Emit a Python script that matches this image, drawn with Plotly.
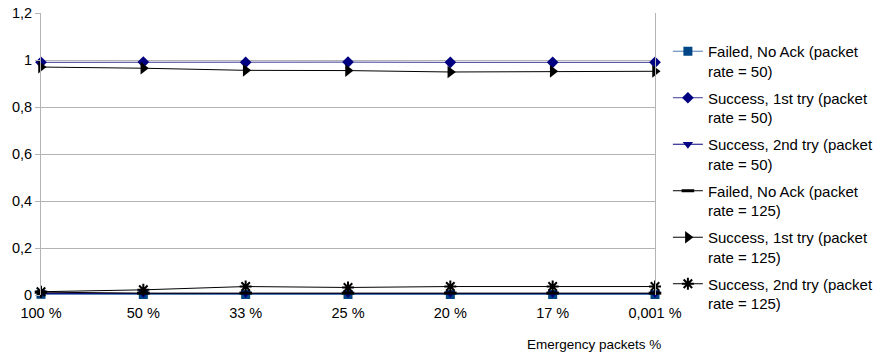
import plotly.graph_objects as go

categories = ["100 %", "50 %", "33 %", "25 %", "20 %", "17 %", "0,001 %"]

failed_50 = [0.003, 0.002, 0.002, 0.002, 0.002, 0.002, 0.002]
success1_50 = [0.99, 0.991, 0.99, 0.991, 0.99, 0.99, 0.99]
success2_50 = [0.006, 0.006, 0.006, 0.006, 0.006, 0.006, 0.006]
failed_125 = [0.012, 0.008, 0.008, 0.008, 0.008, 0.008, 0.008]
success1_125 = [0.97, 0.965, 0.956, 0.955, 0.949, 0.952, 0.952]
success2_125 = [0.014, 0.022, 0.036, 0.032, 0.036, 0.036, 0.036]

names = [
    "Failed, No Ack (packet<br>rate = 50)",
    "Success, 1st try (packet<br>rate = 50)",
    "Success, 2nd try (packet<br>rate = 50)",
    "Failed, No Ack (packet<br>rate = 125)",
    "Success, 1st try (packet<br>rate = 125)",
    "Success, 2nd try (packet<br>rate = 125)",
]
series = [failed_50, success1_50, success2_50, failed_125, success1_125, success2_125]
styles = [
    dict(color="#004586", line="#4a7ab0", symbol="square", size=9, lw=0),
    dict(color="#000080", line="#3a3a9a", symbol="diamond", size=9, lw=0),
    dict(color="#000080", line="#000080", symbol="triangle-down", size=9, lw=0),
    dict(color="#000000", line="#000000", symbol="line-ew", size=9, lw=3),
    dict(color="#000000", line="#000000", symbol="triangle-right", size=11, lw=0),
    dict(color="#000000", line="#000000", symbol="asterisk", size=10, lw=2),
]

fig = go.Figure()
for i, (nm, vals, st) in enumerate(zip(names, series, styles)):
    fig.add_trace(go.Scatter(
        x=categories, y=vals, name=nm, mode="lines+markers",
        legendgroup=f"g{i}",
        line=dict(color=st["line"], width=1),
        marker=dict(symbol=st["symbol"], size=st["size"], color=st["color"],
                    line=dict(color=st["color"], width=st["lw"])),
        cliponaxis=False,
    ))

fig.update_layout(
    width=886, height=358,
    margin=dict(l=41, r=231, t=13, b=63, autoexpand=False),
    paper_bgcolor="white", plot_bgcolor="white",
    separators=", ",
    font=dict(family="Liberation Sans, Arial, sans-serif", size=14.5, color="#000000"),
    showlegend=True,
    legend=dict(x=1.021, xanchor="left", y=0.922, yanchor="top", valign="top",
                tracegroupgap=4.5, font=dict(size=15), bgcolor="rgba(0,0,0,0)",
                maxheight=350),
    xaxis=dict(type="category", range=[0, 6], showgrid=False, zeroline=False,
               showline=False, ticks="outside", ticklen=5,
               tickcolor="rgba(0,0,0,0)", tickfont=dict(size=14.5)),
    yaxis=dict(range=[0, 1.2], dtick=0.2, showgrid=True, gridcolor="#b3b3b3",
               gridwidth=1, zeroline=False, showline=True, linecolor="#b3b3b3",
               mirror=True, ticks="outside", ticklen=5, tickcolor="#b3b3b3",
               tickfont=dict(size=14.5), ticklabeloverflow="allow"),
    annotations=[dict(text="Emergency packets %", xref="paper", yref="paper",
                      x=0.9007, y=-0.177, xanchor="center", yanchor="middle",
                      showarrow=False, font=dict(size=13.5))],
)

fig.write_html("out.html",
               config={"displayModeBar": False},
               post_script="document.body.style.margin='0';document.body.style.overflow='hidden';")
